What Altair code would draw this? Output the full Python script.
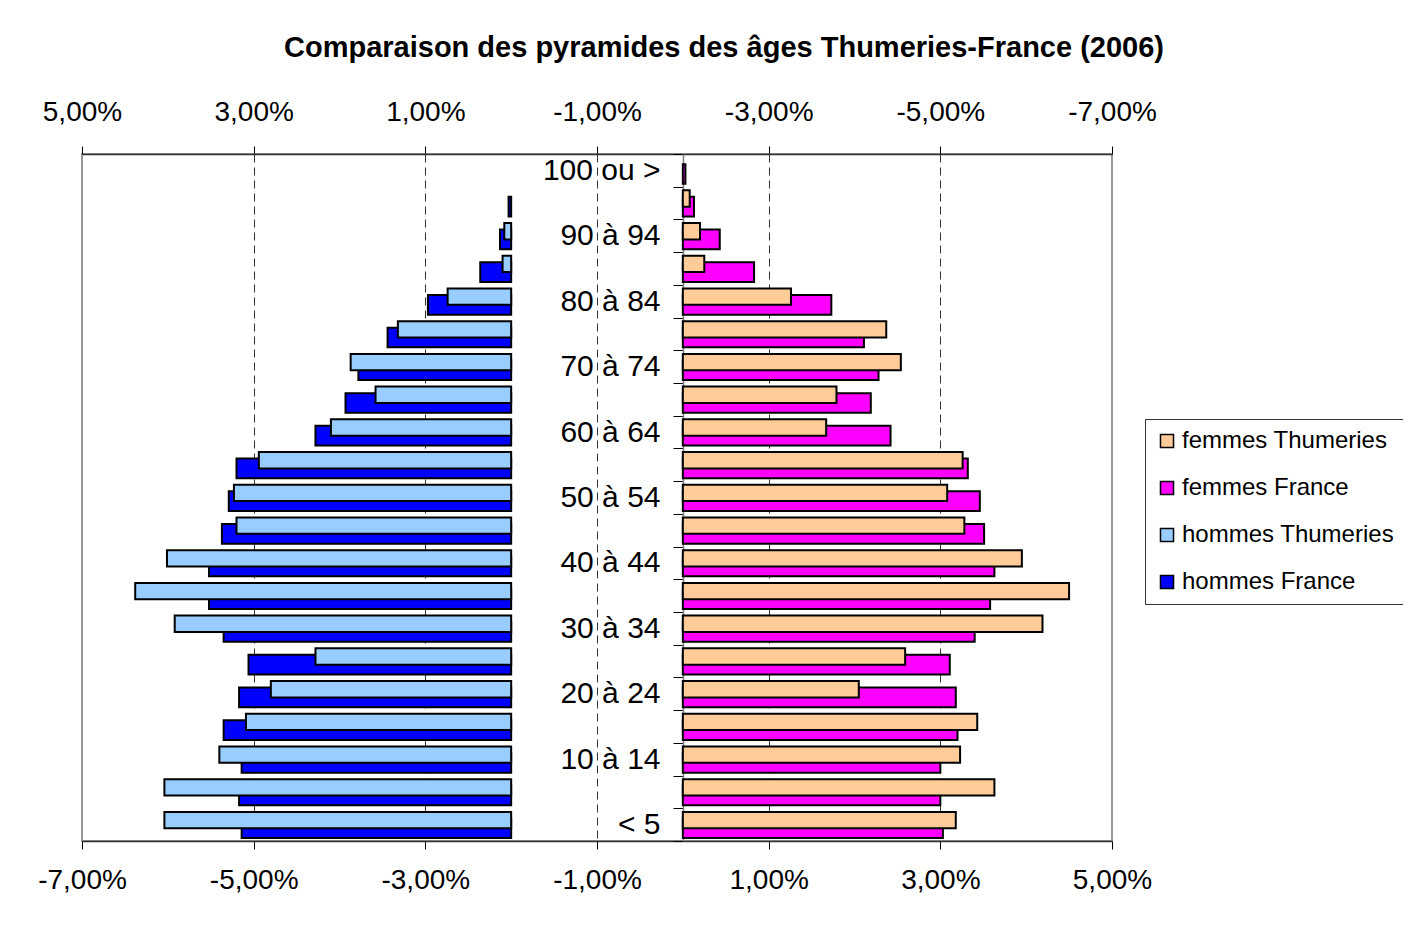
import altair as alt
import pandas as pd

# Age groups, from bottom (youngest) to top (oldest)
ages = ["< 5", "5 à 9", "10 à 14", "15 à 19", "20 à 24", "25 à 29", "30 à 34",
        "35 à 39", "40 à 44", "45 à 49", "50 à 54", "55 à 59", "60 à 64", "65 à 69",
        "70 à 74", "75 à 79", "80 à 84", "85 à 89", "90 à 94", "95 à 99", "100 ou >"]

# Shares of population (%)
femmes_thumeries = [3.18, 3.63, 3.23, 3.43, 2.05, 2.59, 4.19, 4.50, 3.95, 3.28, 3.08,
                    3.26, 1.67, 1.79, 2.54, 2.37, 1.26, 0.25, 0.20, 0.08, 0.0]
femmes_france = [3.03, 3.00, 3.00, 3.20, 3.18, 3.11, 3.40, 3.58, 3.63, 3.51, 3.46,
                 3.32, 2.42, 2.19, 2.28, 2.11, 1.73, 0.83, 0.43, 0.13, 0.03]
hommes_thumeries = [4.04, 4.04, 3.40, 3.09, 2.80, 2.28, 3.92, 4.38, 4.01, 3.20, 3.23,
                    2.94, 2.10, 1.58, 1.87, 1.32, 0.74, 0.10, 0.08, 0.0, 0.0]
hommes_france = [3.14, 3.17, 3.14, 3.35, 3.17, 3.06, 3.35, 3.52, 3.52, 3.37, 3.29,
                 3.20, 2.28, 1.93, 1.78, 1.44, 0.97, 0.36, 0.13, 0.03, 0.0]

series_names = ["femmes Thumeries", "femmes France", "hommes Thumeries", "hommes France"]
series_colors = ["#FFCC99", "#FF00FF", "#99CCFF", "#0000FF"]
x_tick_values = [-7, -5, -3, -1, 1, 3, 5]

rows = []
for i, age in enumerate(ages):
    for name, vals, side, level in [
        ("femmes France", femmes_france, "f", "F"),
        ("hommes France", hommes_france, "h", "F"),
        ("femmes Thumeries", femmes_thumeries, "f", "T"),
        ("hommes Thumeries", hommes_thumeries, "h", "T"),
    ]:
        rows.append({"age": age, "idx": i, "serie": name, "value": vals[i],
                     "side": side, "level": level})
df = pd.DataFrame(rows)
df = df[df["value"] > 0]

FONT = "Liberation Sans"
age_list = ",".join("'" + a + "'" for a in ages)

fmt_bottom = ("(datum.value < 0 ? '-' : '') + replace(format(abs(datum.value), '.2f'), '.', ',') + '%'")
fmt_top = ("((-datum.value - 2) < 0 ? '-' : '') + replace(format(abs(-datum.value - 2), '.2f'), '.', ',') + '%'")

bottom_axis = alt.Axis(
    orient="bottom", values=x_tick_values, labelExpr=fmt_bottom, title=None,
    labelFont=FONT, labelFontSize=28, labelColor="black", labelFlush=False,
    labelOverlap=False, labelPadding=17,
    tickSize=8, tickColor="black", tickWidth=1,
    domainColor="#333333", domainWidth=1.5,
    grid=True, gridColor="#333333", gridDash=[8, 5], gridWidth=1,
    gridOpacity={"condition": {"test": "datum.value > -7 && datum.value < 5", "value": 1}, "value": 0},
)
top_axis = alt.Axis(
    orient="top", values=x_tick_values, labelExpr=fmt_top, title=None,
    labelFont=FONT, labelFontSize=28, labelColor="black", labelFlush=False,
    labelOverlap=False, labelPadding=20,
    tickSize=8, tickColor="black", tickWidth=1,
    domainColor="#333333", domainWidth=1.5, grid=False,
)
cat_axis = alt.Axis(
    orient="left", offset=-601, values=[k * 0.5 for k in range(43)], title=None,
    labelExpr=("(datum.value % 1 == 0.5 && floor(datum.value) % 2 == 0) ? [" + age_list
               + "][floor(datum.value)] : ''"),
    labelFont=FONT, labelFontSize=30, labelColor="black", labelFlush=False,
    labelOverlap=False, labelPadding=13,
    tickSize=10, tickColor="black", tickWidth=1,
    tickOpacity={"condition": {"test": "datum.value % 1 == 0", "value": 1}, "value": 0},
    domainColor="#808080", domainWidth=1.5, grid=False,
)

legend = alt.Legend(
    title=None, orient="none", legendX=1063, legendY=265,
    strokeColor="#333333", padding=10, fillColor="white",
    symbolType="square", symbolSize=170, symbolStrokeColor="black", symbolStrokeWidth=1.5,
    labelFont=FONT, labelFontSize=24, labelColor="black", labelOffset=3,
    rowPadding=23, labelLimit=400,
)

color = alt.Color("serie:N", scale=alt.Scale(domain=series_names, range=series_colors),
                  legend=legend)

base = alt.Chart(df).transform_calculate(
    x0="datum.side == 'h' ? -2 : 0",
    x1="datum.side == 'h' ? -2 - datum.value : datum.value",
    y0="datum.level == 'T' ? datum.idx + 0.89 : datum.idx + 0.69",
    y1="datum.level == 'T' ? datum.idx + 0.39 : datum.idx + 0.09",
)

xscale = alt.Scale(domain=[-7, 5], nice=False, zero=False)
yscale = alt.Scale(domain=[0, 21], nice=False, zero=False)

france = base.transform_filter("datum.level == 'F'").mark_bar(
    stroke="black", strokeWidth=2
).encode(
    x=alt.X("x0:Q", scale=xscale, axis=bottom_axis),
    x2="x1:Q",
    y=alt.Y("y0:Q", scale=yscale, axis=cat_axis),
    y2="y1:Q",
    color=color,
)
thumeries = base.transform_filter("datum.level == 'T'").mark_bar(
    stroke="black", strokeWidth=2
).encode(
    x=alt.X("x0:Q", scale=xscale, axis=top_axis),
    x2="x1:Q",
    y=alt.Y("y0:Q", scale=yscale, axis=cat_axis),
    y2="y1:Q",
    color=color,
)

chart = alt.layer(france, thumeries).resolve_axis(x="independent").properties(
    width=1030, height=687,
    title=alt.TitleParams(
        "Comparaison des pyramides des âges Thumeries-France (2006)",
        font=FONT, fontSize=29, fontWeight="bold", color="black",
        anchor="middle", dx=127, offset=35,
    ),
    autosize=alt.AutoSizeParams(type="none"),
    padding={"left": 74, "top": 146, "right": 291, "bottom": 79},
    background="white",
).configure_view(stroke="#999999", strokeWidth=2)

chart.save("out.html", embed_options={"renderer": "svg", "actions": False})
